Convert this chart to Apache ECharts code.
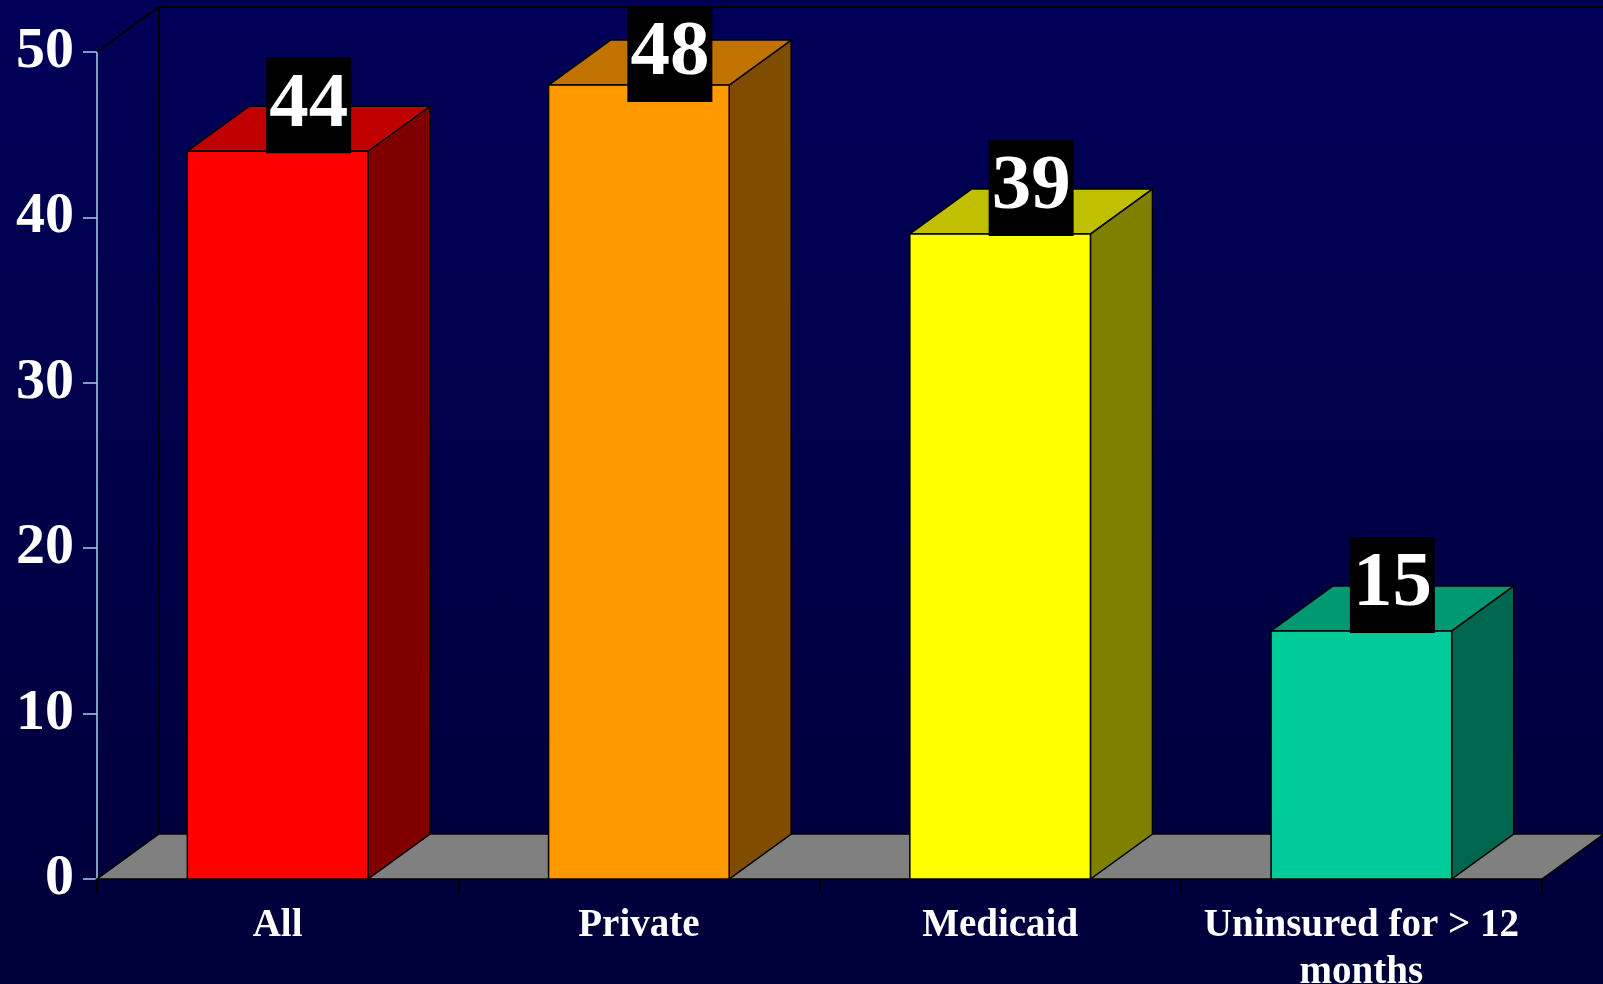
<!DOCTYPE html>
<html><head><meta charset="utf-8">
<script src="https://cdn.jsdelivr.net/npm/echarts@6/dist/echarts.min.js"></script>
<style>
html,body{margin:0;padding:0;width:1603px;height:984px;overflow:hidden;background:linear-gradient(to bottom,#000058,#00003a);}
#c{width:1603px;height:984px;}
</style>
</head><body><div id="c"></div>
<script>
// ---- data ----
const categories = ['All', 'Private', 'Medicaid', 'Uninsured for > 12\nmonths'];
const values = [44, 48, 39, 15];
const yMin = 0, yMax = 50, yStep = 10;

// ---- styles ----
const FRONT = ['#FF0000', '#FF9900', '#FFFF00', '#00CC99'];
const TOP   = ['#C00000', '#C07300', '#C0C000', '#009973'];
const SIDE  = ['#800000', '#804C00', '#808000', '#006650'];
const DX = 62, DY = 45;
const SERIF = '"Liberation Serif","Times New Roman",serif';
const AXIS_BLUE = '#a8d0e8';

const chart = echarts.init(document.getElementById('c'), null, {renderer: 'canvas'});

function renderFrame(params, api) {
  const cs = params.coordSys;
  const x0 = cs.x, x1 = cs.x + cs.width, yt = cs.y, yb = cs.y + cs.height;
  return {
    type: 'group',
    children: [
      {type: 'polygon', shape: {points: [[x0, yb], [x0 + DX, yb - DY], [x1 + DX, yb - DY], [x1, yb]]},
       style: {fill: '#808080', stroke: '#000', lineWidth: 1.5}},
      {type: 'polyline', shape: {points: [[x0, yt], [x0 + DX, yt - DY], [x1 + DX, yt - DY], [x1 + DX, yb - DY]]},
       style: {fill: null, stroke: '#000', lineWidth: 2}},
      {type: 'line', shape: {x1: x0 + DX, y1: yt - DY, x2: x0 + DX, y2: yb - DY},
       style: {stroke: '#000', lineWidth: 2}}
    ]
  };
}

function renderBar(params, api) {
  const i = api.value(0), v = api.value(1);
  const p = api.coord([i, v]);
  const p0 = api.coord([i, 0]);
  const cx = p[0], yTop = p[1], y0 = p0[1];
  const w = api.size([1, 0])[0] * 0.5;
  const xl = cx - w / 2, xr = cx + w / 2;
  const k = params.dataIndex;
  const labelBottom = Math.max(yTop + 2, 102);
  return {
    type: 'group',
    children: [
      {type: 'polygon', shape: {points: [[xr, yTop], [xr + DX, yTop - DY], [xr + DX, y0 - DY], [xr, y0]]},
       style: {fill: SIDE[k], stroke: '#000', lineWidth: 1.5}},
      {type: 'polygon', shape: {points: [[xl, yTop], [xl + DX, yTop - DY], [xr + DX, yTop - DY], [xr, yTop]]},
       style: {fill: TOP[k], stroke: '#000', lineWidth: 1.5}},
      {type: 'rect', shape: {x: xl, y: yTop, width: w, height: y0 - yTop},
       style: {fill: FRONT[k], stroke: '#000', lineWidth: 1.5}},
      {type: 'text', x: cx + DX / 2, y: labelBottom, z2: 10,
       style: {text: String(v), fill: '#fff', font: 'bold 79px ' + SERIF,
               backgroundColor: '#000', padding: [0, 3], lineHeight: 96,
               align: 'center', verticalAlign: 'bottom'}}
    ]
  };
}

chart.setOption({
  backgroundColor: 'transparent',
  animation: false,
  grid: {left: 97, right: 61, top: 52, bottom: 105, containLabel: false, outerBoundsMode: 'none'},
  xAxis: {
    type: 'category', data: categories,
    axisLine: {show: true, lineStyle: {color: '#000', width: 2}},
    axisTick: {show: true, length: 13, lineStyle: {color: '#000', width: 2}},
    axisLabel: {color: '#fff', fontFamily: SERIF, fontWeight: 'bold', fontSize: 39, lineHeight: 47, margin: 23, interval: 0}
  },
  yAxis: {
    type: 'value', min: yMin, max: yMax, interval: yStep,
    splitLine: {show: false},
    axisLine: {show: true, lineStyle: {color: AXIS_BLUE, width: 1.5}},
    axisTick: {show: true, length: 14, lineStyle: {color: AXIS_BLUE, width: 1.5}},
    axisLabel: {color: '#fff', fontFamily: SERIF, fontWeight: 'bold', fontSize: 58, margin: 23}
  },
  series: [
    {type: 'custom', z: 1, renderItem: renderFrame, data: [[0, 0]], silent: true, clip: false},
    {type: 'custom', z: 2, renderItem: renderBar, data: values.map((v, i) => [i, v]), clip: false,
     encode: {x: 0, y: 1}}
  ]
});
</script>
</body></html>
